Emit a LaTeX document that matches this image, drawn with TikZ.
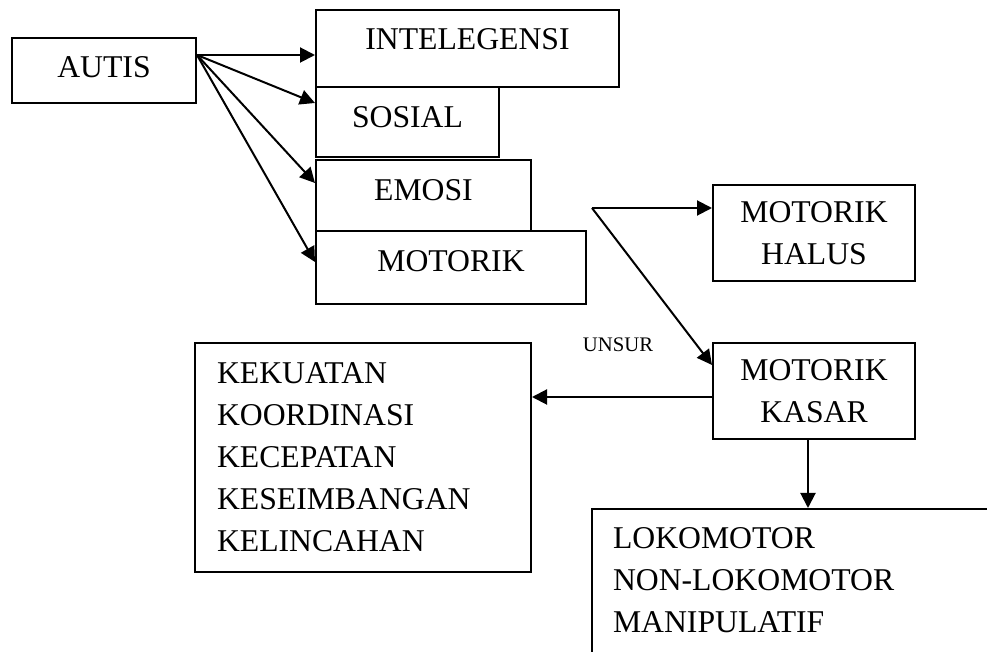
\documentclass[tikz,border=0pt]{standalone}
\usepackage{fontspec}
\setmainfont{Liberation Serif}
\usetikzlibrary{arrows.meta,calc}
\begin{document}
\begin{tikzpicture}[x=0.5pt,y=-0.5pt,
  box/.style={draw, line width=1pt, rectangle, inner sep=0pt,
    font=\fontsize{15.85}{21}\selectfont},
  onebox/.style={box, text height=10.5pt},
  conn/.style={line width=1pt, -{Triangle[length=7.5pt,width=7.5pt]}},
  small/.style={font=\fontsize{10.35}{12}\selectfont, inner sep=0pt}]
\useasboundingbox (0,0) rectangle (987,652);
\fill[white] (0,0) rectangle (987,652);
\clip (0,0) rectangle (987,652);

% nodes
\node[onebox, text depth=3.1pt, minimum width=92pt, minimum height=32.5pt] (autis) at (104,70.5) {AUTIS};
\node[onebox, text depth=9.6pt, minimum width=151.5pt, minimum height=38.5pt] (intel) at (467.5,48.5) {INTELEGENSI};
\node[onebox, text depth=4.6pt, minimum width=91.5pt, minimum height=35pt] (sosial) at (407.5,122) {SOSIAL};
\node[onebox, text depth=5.6pt, minimum width=107.5pt, minimum height=35.5pt] (emosi) at (423.5,195.5) {EMOSI};
\node[onebox, text depth=6.6pt, minimum width=135pt, minimum height=36.5pt] (motorik) at (451,267.5) {MOTORIK};
\node[box, align=center, minimum width=101pt, minimum height=48pt] (halus) at (814,233) {MOTORIK\\HALUS};
\node[box, align=center, minimum width=101pt, minimum height=48pt] (kasar) at (814,391) {MOTORIK\\KASAR};
\node[box, align=left, text width=146pt, inner xsep=11pt, inner ysep=0pt,
  minimum width=168pt, minimum height=114.5pt] (unsurbox) at (363,457.5)
  {KEKUATAN\\KOORDINASI\\KECEPATAN\\KESEIMBANGAN\\KELINCAHAN};
\node[box, anchor=north west, align=left, text width=190pt, inner xsep=10.5pt,
  inner ysep=9.5pt, text depth=70pt] (lok) at (591,508)
  {LOKOMOTOR\\NON-LOKOMOTOR\\MANIPULATIF};
\node[small] (unsur) at (618,345) {UNSUR};

% connectors
\coordinate (split) at (592,208);
\draw[conn] ([yshift=7.75pt]autis.east) -- ([yshift=-3.25pt]intel.west);
\draw[conn] ([yshift=7.75pt]autis.east) -- ([yshift=9.5pt]sosial.west);
\draw[conn] ([yshift=7.75pt]autis.east) -- ([yshift=6.25pt]emosi.west);
\draw[conn] ([yshift=7.75pt]autis.east) -- ([yshift=2.75pt]motorik.west);
\draw[conn] (split) -- (split -| halus.west);
\draw[conn] (split) -- ([yshift=13pt]kasar.west);
\draw[conn] ([yshift=-3pt]kasar.west) -- ([yshift=-3pt]kasar.west -| unsurbox.east);
\draw[conn] ([xshift=-3pt]kasar.south) -- ([xshift=-3pt]kasar.south |- lok.north);
\end{tikzpicture}
\end{document}
